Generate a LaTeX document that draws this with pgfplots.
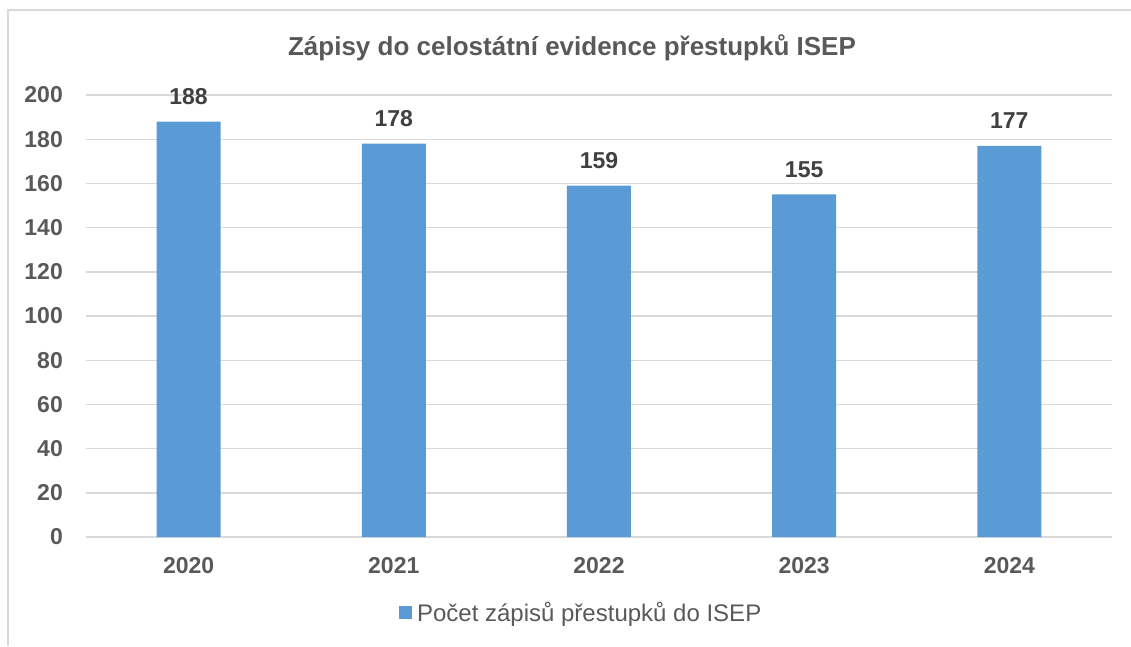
\documentclass[border=0pt]{standalone}
\usepackage{fontspec}
\setmainfont{Liberation Sans}
\usepackage{pgfplots}
\pgfplotsset{compat=1.18}
\definecolor{barblue}{HTML}{5B9BD5}
\definecolor{gridgray}{HTML}{D9D9D9}
\definecolor{ticktext}{HTML}{595959}
\definecolor{labeltext}{HTML}{404040}
\begin{document}
\begin{tikzpicture}[x=1pt,y=1pt]
\useasboundingbox (0,0) rectangle (1131,646);
\draw[gridgray, line width=1.5pt] (8,0) -- (8,636) -- (1131,636);
\node[font=\fontsize{26}{30}\selectfont\bfseries, text=ticktext] at (572,598) {Zápisy do celostátní evidence přestupků ISEP};
\begin{axis}[
  at={(86pt,109pt)}, anchor=south west,
  scale only axis, width=1026pt, height=442pt,
  xmin=-0.5, xmax=4.5, ymin=0, ymax=200,
  ytick={0,20,...,200},
  xtick={0,1,2,3,4},
  xticklabels={2020,2021,2022,2023,2024},
  /pgf/number format/assume math mode=true,
  ybar, bar width=64pt,
  ymajorgrids, grid style={gridgray, line width=1.4pt},
  axis line style={draw=none},
  major tick style={draw=none},
  yticklabel style={font=\fontsize{23}{27}\selectfont\bfseries, text=ticktext, anchor=east, inner sep=0pt, xshift=-23pt},
  xticklabel style={font=\fontsize{23}{27}\selectfont\bfseries, text=ticktext, anchor=center, inner sep=0pt, yshift=-24.5pt},
  nodes near coords,
  nodes near coords style={font=\fontsize{23}{27}\selectfont\bfseries, text=labeltext, anchor=center, inner sep=0pt, yshift=25pt},
  legend style={draw=none, fill=none, at={(0.305,-0.170)}, anchor=west, font=\fontsize{24}{28}\selectfont, text=ticktext, inner sep=0pt, nodes={inner sep=0pt}},
  legend image code/.code={\fill[barblue] (0pt,-6.5pt) rectangle (13pt,6.5pt); \path (18pt,0pt);},
]
\addplot[fill=barblue, draw=none] coordinates {(0,188) (1,178) (2,159) (3,155) (4,177)};
\addlegendentry{Počet zápisů přestupků do ISEP}
\end{axis}
\end{tikzpicture}
\end{document}
